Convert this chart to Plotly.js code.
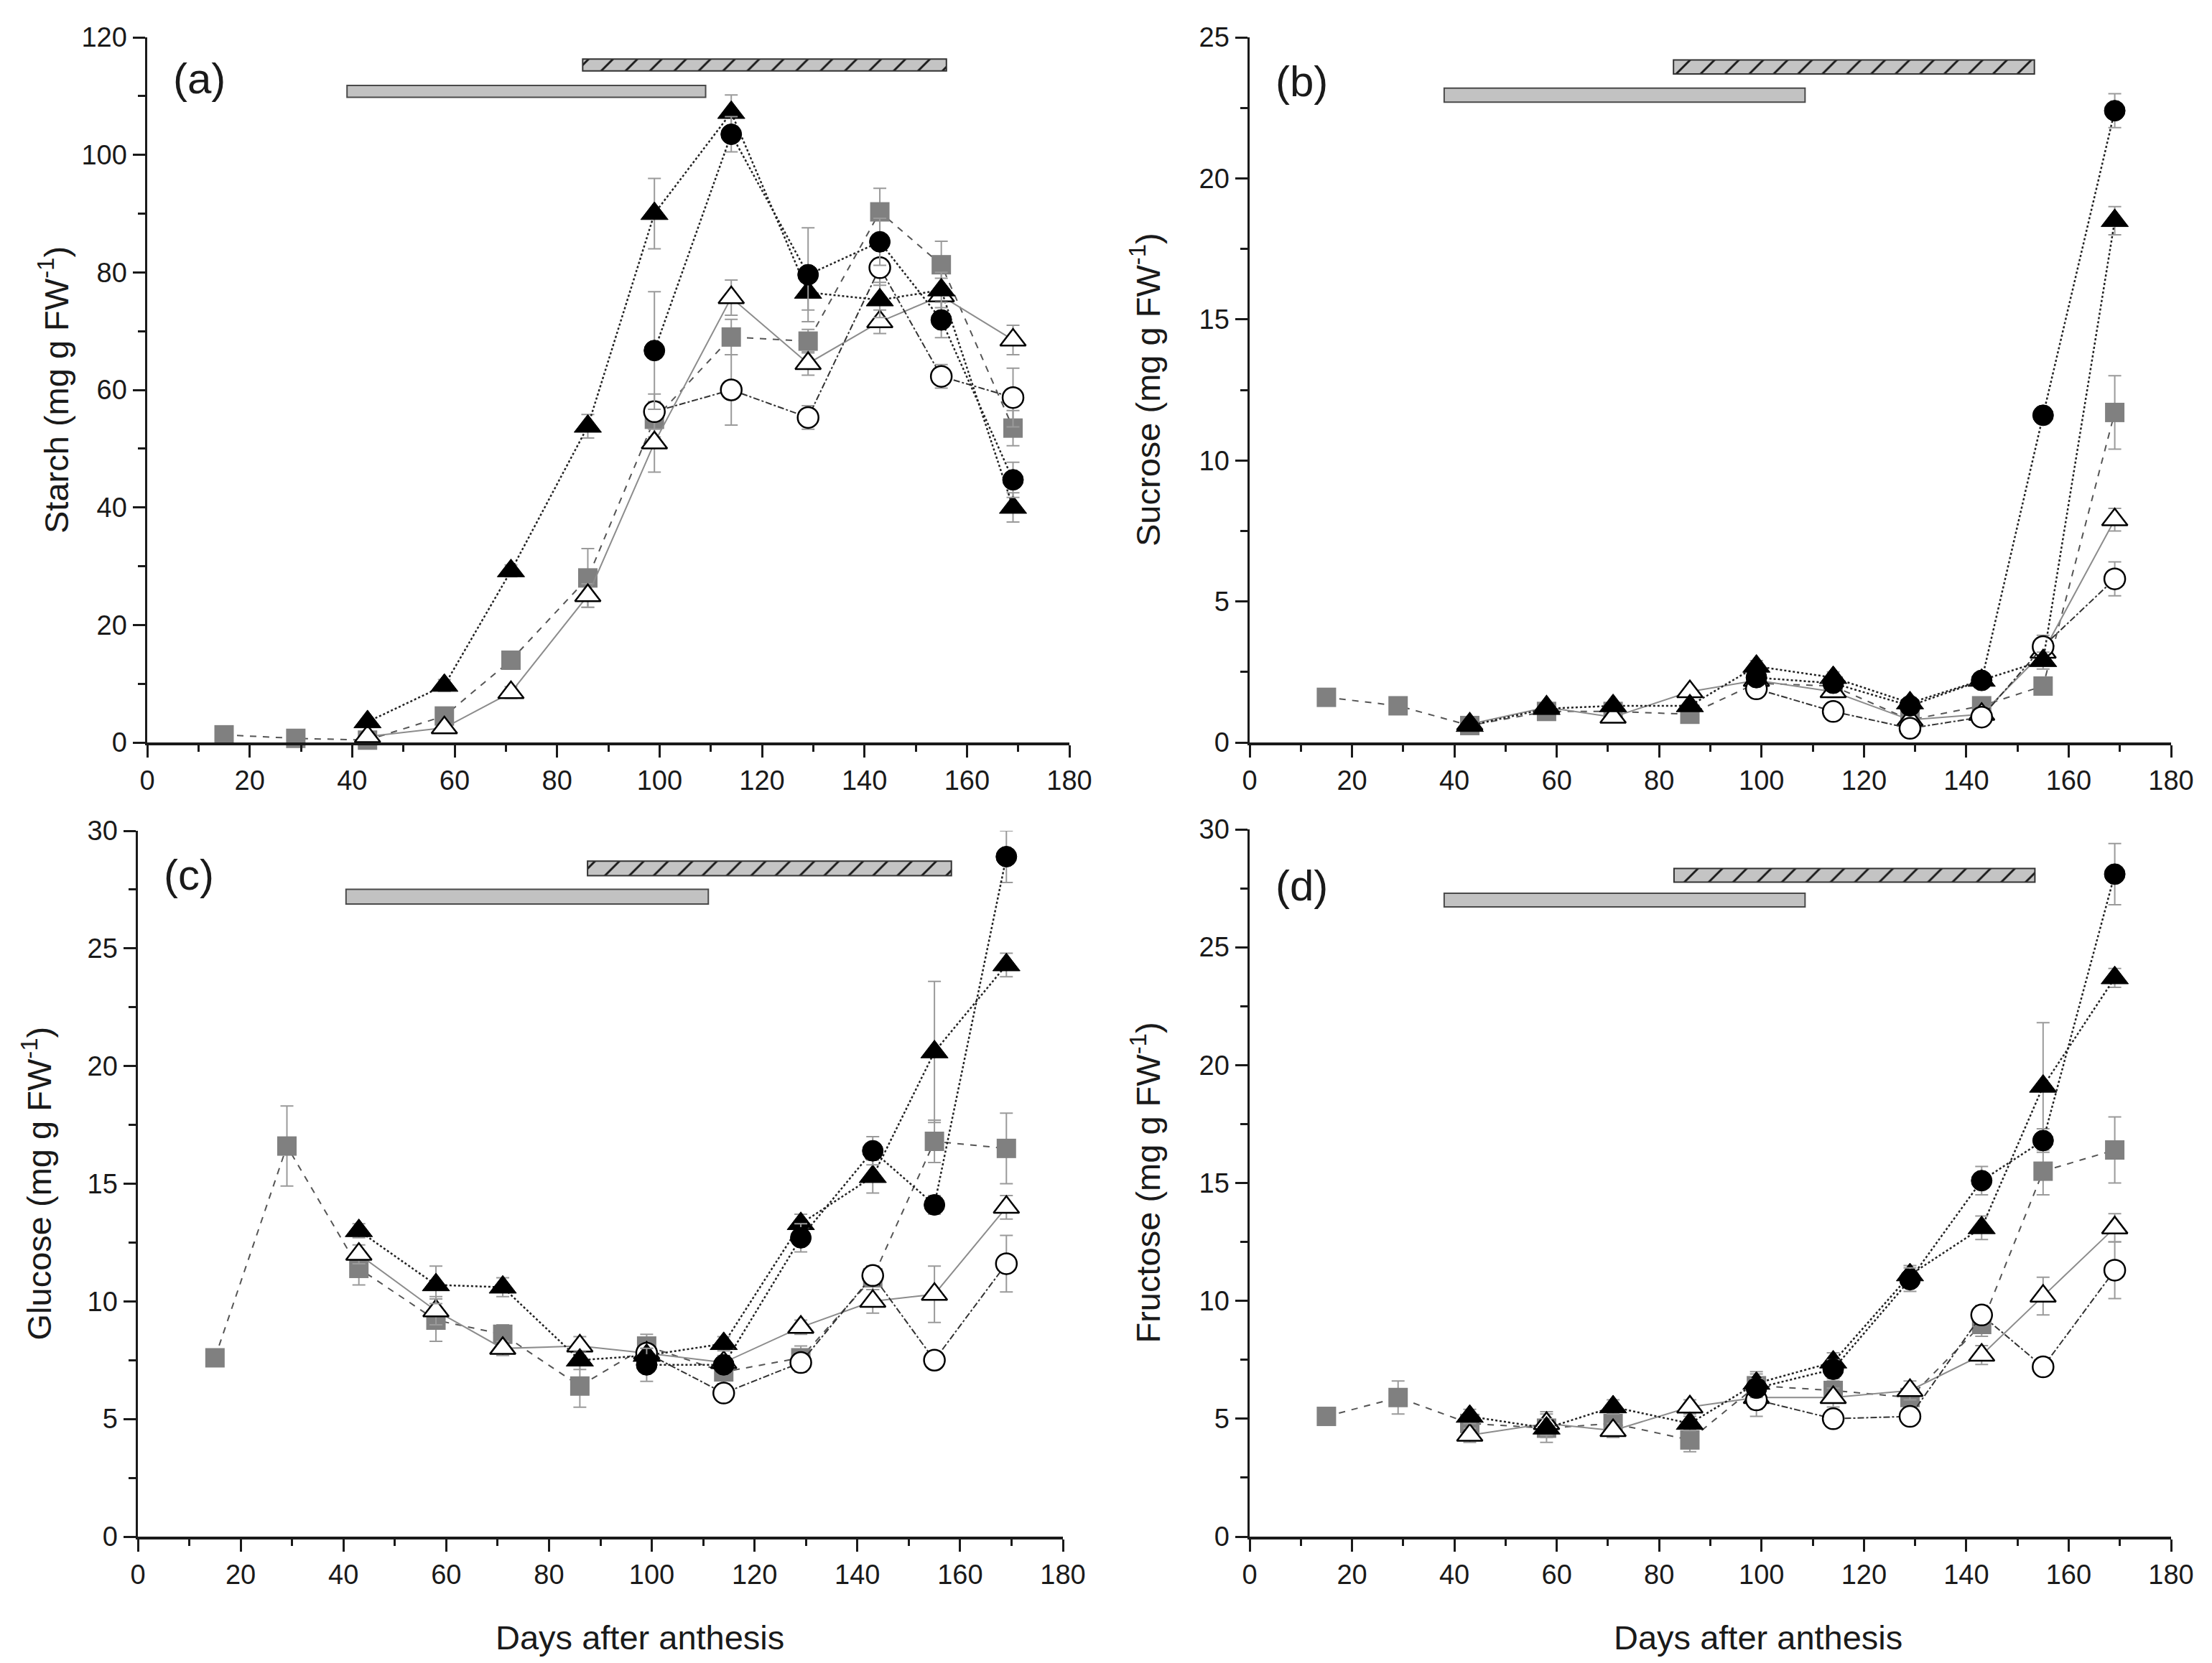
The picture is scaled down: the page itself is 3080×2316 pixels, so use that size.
<!DOCTYPE html>
<html>
<head>
<meta charset="utf-8">
<script src="https://cdn.plot.ly/plotly-3.0.1.min.js"></script>
<style>
  html, body { margin: 0; padding: 0; background: #fff; }
  #graph { width: 3080px; height: 2316px; }
</style>
</head>
<body>
<div id="graph"></div>
<script>
// sampling days
const daysAll = [15, 29, 43, 58, 71, 86, 99, 114, 129, 143, 155, 169];
const daysMid = [43, 58, 71, 86, 99, 114, 129, 143, 155, 169];
const daysLate = [99, 114, 129, 143, 155, 169];

// (a) starch
const starchSq = [1.3, 0.7, 0.4, 4.5, 14.0, 28.0, 55.0, 69.0, 68.3, 90.3, 81.3, 53.5];
const starchSqErr = [0.3, 0.2, 0.2, 1, 1.5, 5, 3, 3, 2, 4, 4, 3];
const starchTriF = [3.5, 9.7, 29.2, 53.8, 90.0, 107.2, 76.6, 75.3, 77.0, 40.0];
const starchTriFErr = [0.5, 1, 1, 2, 6, 3, 3, 3, 3, 2.5];
const starchTriO = [1.0, 2.5, 8.5, 25.0, 51.0, 75.7, 64.5, 71.6, 76.0, 68.5];
const starchTriOErr = [0.3, 0.5, 1, 2, 5, 3, 2, 2, 3, 2.5];
const starchCirF = [66.7, 103.5, 79.6, 85.2, 71.9, 44.7];
const starchCirFErr = [10, 3, 8, 4, 3, 3];
const starchCirO = [56.3, 60.0, 55.3, 80.8, 62.3, 58.7];
const starchCirOErr = [3, 6, 2, 3, 2, 5];

// (b) sucrose
const sucroseSq = [1.6, 1.3, 0.6, 1.1, 1.1, 1.0, 2.1, 2.0, 0.8, 1.3, 2.0, 11.7];
const sucroseSqErr = [0.1, 0.1, 0.1, 0.1, 0.1, 0.1, 0.2, 0.2, 0.1, 0.2, 0.2, 1.3];
const sucroseTriF = [0.6, 1.2, 1.3, 1.3, 2.7, 2.3, 1.4, 2.2, 2.9, 18.5];
const sucroseTriFErr = [0.1, 0.1, 0.1, 0.1, 0.2, 0.2, 0.2, 0.2, 0.3, 0.5];
const sucroseTriO = [0.65, 1.25, 0.9, 1.8, 2.2, 1.8, 0.8, 1.0, 3.2, 7.9];
const sucroseTriOErr = [0.1, 0.1, 0.1, 0.1, 0.2, 0.2, 0.1, 0.1, 0.3, 0.4];
const sucroseCirF = [2.3, 2.1, 1.3, 2.2, 11.6, 22.4];
const sucroseCirFErr = [0.2, 0.2, 0.2, 0.2, 0.3, 0.6];
const sucroseCirO = [1.9, 1.1, 0.5, 0.9, 3.4, 5.8];
const sucroseCirOErr = [0.2, 0.2, 0.1, 0.1, 0.4, 0.6];

// (c) glucose
const glucoseSq = [7.6, 16.6, 11.4, 9.2, 8.6, 6.4, 8.1, 7.0, 7.6, 11.0, 16.8, 16.5];
const glucoseSqErr = [0.3, 1.7, 0.7, 0.9, 0.4, 0.9, 0.5, 0.5, 0.5, 0.5, 0.9, 1.5];
const glucoseTriF = [13.0, 10.7, 10.6, 7.5, 7.7, 8.2, 13.3, 15.3, 20.6, 24.3];
const glucoseTriFErr = [0.3, 0.8, 0.4, 0.4, 0.3, 0.3, 0.4, 0.7, 3.0, 0.5];
const glucoseTriO = [12.0, 9.6, 8.0, 8.1, 7.8, 7.4, 8.9, 10.0, 10.3, 14.0];
const glucoseTriOErr = [0.4, 0.6, 0.3, 0.4, 0.3, 0.3, 0.3, 0.5, 1.2, 0.5];
const glucoseCirF = [7.3, 7.3, 12.7, 16.4, 14.1, 28.9];
const glucoseCirFErr = [0.7, 0.3, 0.6, 0.6, 0.4, 1.1];
const glucoseCirO = [7.8, 6.1, 7.4, 11.1, 7.5, 11.6];
const glucoseCirOErr = [0.4, 0.3, 0.4, 0.4, 0.3, 1.2];

// (d) fructose
const fructoseSq = [5.1, 5.9, 4.8, 4.6, 4.8, 4.1, 6.4, 6.2, 5.9, 9.0, 15.5, 16.4];
const fructoseSqErr = [0.3, 0.7, 0.4, 0.6, 0.4, 0.5, 0.6, 0.4, 0.4, 0.5, 1.0, 1.4];
const fructoseTriF = [5.1, 4.6, 5.5, 4.8, 6.5, 7.4, 11.1, 13.1, 19.1, 23.7];
const fructoseTriFErr = [0.3, 0.4, 0.3, 0.3, 0.4, 0.4, 0.4, 0.5, 2.7, 0.4];
const fructoseTriO = [4.3, 4.8, 4.5, 5.5, 5.9, 5.9, 6.2, 7.7, 10.2, 13.1];
const fructoseTriOErr = [0.3, 0.5, 0.3, 0.3, 0.8, 0.4, 0.4, 0.4, 0.8, 0.6];
const fructoseCirF = [6.3, 7.1, 10.9, 15.1, 16.8, 28.1];
const fructoseCirFErr = [0.4, 0.4, 0.5, 0.6, 0.5, 1.3];
const fructoseCirO = [5.8, 5.0, 5.1, 9.4, 7.2, 11.3];
const fructoseCirOErr = [0.4, 0.3, 0.3, 0.4, 0.3, 1.2];

// period bars (days), one entry per panel a-d
const grayStart = [39, 38, 40.5, 38];
const grayEnd = [109, 108.5, 111, 108.5];
const grayLevel = [110.8, 22.95, 27.2, 27.0];
const hatchStart = [85, 82.8, 87.5, 82.9];
const hatchEnd = [156, 153.3, 158.3, 153.4];
const hatchLevel = [115.3, 23.95, 28.4, 28.05];

const panelLabels = ["(a)", "(b)", "(c)", "(d)"];
const yTitles = [
  "Starch (mg g FW<sup>-1</sup>)",
  "Sucrose (mg g FW<sup>-1</sup>)",
  "Glucose (mg g FW<sup>-1</sup>)",
  "Fructose (mg g FW<sup>-1</sup>)"
];
const xTitle = "Days after anthesis";

const FONT = "Liberation Sans, Arial, sans-serif";
const W = 3080, H = 2316;

const panels = [
  { sq: starchSq, sqE: starchSqErr, tf: starchTriF, tfE: starchTriFErr, to: starchTriO, toE: starchTriOErr,
    cf: starchCirF, cfE: starchCirFErr, co: starchCirO, coE: starchCirOErr,
    ymax: 120, dtick: 20, thick: 2.0 },
  { sq: sucroseSq, sqE: sucroseSqErr, tf: sucroseTriF, tfE: sucroseTriFErr, to: sucroseTriO, toE: sucroseTriOErr,
    cf: sucroseCirF, cfE: sucroseCirFErr, co: sucroseCirO, coE: sucroseCirOErr,
    ymax: 25, dtick: 5, thick: 0.5 },
  { sq: glucoseSq, sqE: glucoseSqErr, tf: glucoseTriF, tfE: glucoseTriFErr, to: glucoseTriO, toE: glucoseTriOErr,
    cf: glucoseCirF, cfE: glucoseCirFErr, co: glucoseCirO, coE: glucoseCirOErr,
    ymax: 30, dtick: 5, thick: 0.62 },
  { sq: fructoseSq, sqE: fructoseSqErr, tf: fructoseTriF, tfE: fructoseTriFErr, to: fructoseTriO, toE: fructoseTriOErr,
    cf: fructoseCirF, cfE: fructoseCirFErr, co: fructoseCirO, coE: fructoseCirOErr,
    ymax: 30, dtick: 5, thick: 0.58 }
];

// plot area boxes in pixels [left, right, top, bottom]
const boxes = [
  [205, 1489, 52, 1034],
  [1740, 3023, 52, 1034],
  [192, 1480, 1157, 2140],
  [1740, 3023, 1155, 2140]
];
// panel label vertical offsets from the top of each box
const labelDy = [58, 62, 62, 78];

function errStyle(arr) {
  return { type: "data", array: arr, visible: true, color: "#9a9a9a", thickness: 2, width: 9 };
}

function seriesTrace(x, y, err, ax, marker, line) {
  return {
    x: x, y: y, xaxis: ax.x, yaxis: ax.y,
    type: "scatter", mode: "lines+markers",
    error_y: errStyle(err),
    marker: marker, line: line,
    cliponaxis: false, showlegend: false, hoverinfo: "x+y"
  };
}

const data = [];
const layout = {
  width: W, height: H,
  margin: { l: 0, r: 0, t: 0, b: 0 },
  paper_bgcolor: "#fff", plot_bgcolor: "#fff",
  showlegend: false,
  barmode: "overlay",
  font: { family: FONT, color: "#1a1a1a" },
  annotations: []
};

panels.forEach((p, i) => {
  const n = i + 1;
  const ax = { x: "x" + (n === 1 ? "" : n), y: "y" + (n === 1 ? "" : n) };
  const b = boxes[i];

  // period bars
  data.push({
    type: "bar", orientation: "h", xaxis: ax.x, yaxis: ax.y,
    y: [grayLevel[i]], x: [grayEnd[i] - grayStart[i]], base: [grayStart[i]],
    width: [p.thick],
    marker: { color: "#c2c2c2", line: { color: "#4a4a4a", width: 2 } },
    hoverinfo: "skip", showlegend: false
  });
  data.push({
    type: "bar", orientation: "h", xaxis: ax.x, yaxis: ax.y,
    y: [hatchLevel[i]], x: [hatchEnd[i] - hatchStart[i]], base: [hatchStart[i]],
    width: [p.thick],
    marker: {
      color: "#c4c4c4",
      line: { color: "#333", width: 2 },
      pattern: { shape: "/", fgcolor: "#1a1a1a", bgcolor: "#c4c4c4", size: 24, solidity: 0.12 }
    },
    hoverinfo: "skip", showlegend: false
  });

  data.push(seriesTrace(daysAll, p.sq, p.sqE, ax,
    { symbol: "square", size: 27, color: "#808080", line: { width: 0 } },
    { color: "#555", width: 2, dash: "dash" }));
  data.push(seriesTrace(daysMid, p.to, p.toE, ax,
    { symbol: "triangle-up", size: 31, color: "#fff", line: { color: "#000", width: 2.5 } },
    { color: "#8c8c8c", width: 2, dash: "solid" }));
  data.push(seriesTrace(daysLate, p.co, p.coE, ax,
    { symbol: "circle", size: 29, color: "#fff", line: { color: "#000", width: 2.5 } },
    { color: "#333", width: 2, dash: "dashdot" }));
  data.push(seriesTrace(daysMid, p.tf, p.tfE, ax,
    { symbol: "triangle-up", size: 33, color: "#000", line: { color: "#000", width: 1 } },
    { color: "#222", width: 2.5, dash: "dot" }));
  data.push(seriesTrace(daysLate, p.cf, p.cfE, ax,
    { symbol: "circle", size: 29, color: "#000", line: { color: "#000", width: 1 } },
    { color: "#222", width: 2.5, dash: "dot" }));

  const common = {
    showgrid: false, zeroline: false, showline: true,
    linecolor: "#1a1a1a", linewidth: 3.5,
    ticks: "outside", ticklen: 17, tickwidth: 3, tickcolor: "#1a1a1a",
    tickfont: { family: FONT, size: 38, color: "#1a1a1a" },
    fixedrange: true
  };
  layout["xaxis" + (n === 1 ? "" : n)] = Object.assign({}, common, {
    domain: [b[0] / W, b[1] / W],
    anchor: ax.y,
    range: [0, 180], tick0: 0, dtick: 20,
    minor: { dtick: 10, ticks: "outside", ticklen: 9, tickwidth: 3, tickcolor: "#1a1a1a" }
  });
  layout["yaxis" + (n === 1 ? "" : n)] = Object.assign({}, common, {
    domain: [1 - b[3] / H, 1 - b[2] / H],
    anchor: ax.x,
    range: [0, p.ymax], tick0: 0, dtick: p.dtick,
    minor: { dtick: p.dtick / 2, ticks: "outside", ticklen: 10, tickwidth: 3, tickcolor: "#1a1a1a" }
  });

  // panel label
  layout.annotations.push({
    text: panelLabels[i], xref: "paper", yref: "paper",
    x: (b[0] + 34) / W, y: 1 - (b[2] + labelDy[i]) / H,
    xanchor: "left", yanchor: "middle", showarrow: false,
    font: { family: FONT, size: 60, color: "#1a1a1a" }
  });
  // y title
  const yTitleX = [75, 1595, 51, 1595][i];
  layout.annotations.push({
    text: yTitles[i], xref: "paper", yref: "paper",
    x: yTitleX / W, y: 1 - (b[2] + b[3]) / 2 / H,
    xanchor: "center", yanchor: "middle", textangle: -90, showarrow: false,
    font: { family: FONT, size: 47, color: "#1a1a1a" }
  });
});

// x titles on the bottom row
[891, 2448].forEach(px => {
  layout.annotations.push({
    text: xTitle, xref: "paper", yref: "paper",
    x: px / W, y: 1 - 2280 / H,
    xanchor: "center", yanchor: "middle", showarrow: false,
    font: { family: FONT, size: 47, color: "#1a1a1a" }
  });
});

Plotly.newPlot("graph", data, layout, { displayModeBar: false, staticPlot: true });
</script>
</body>
</html>
